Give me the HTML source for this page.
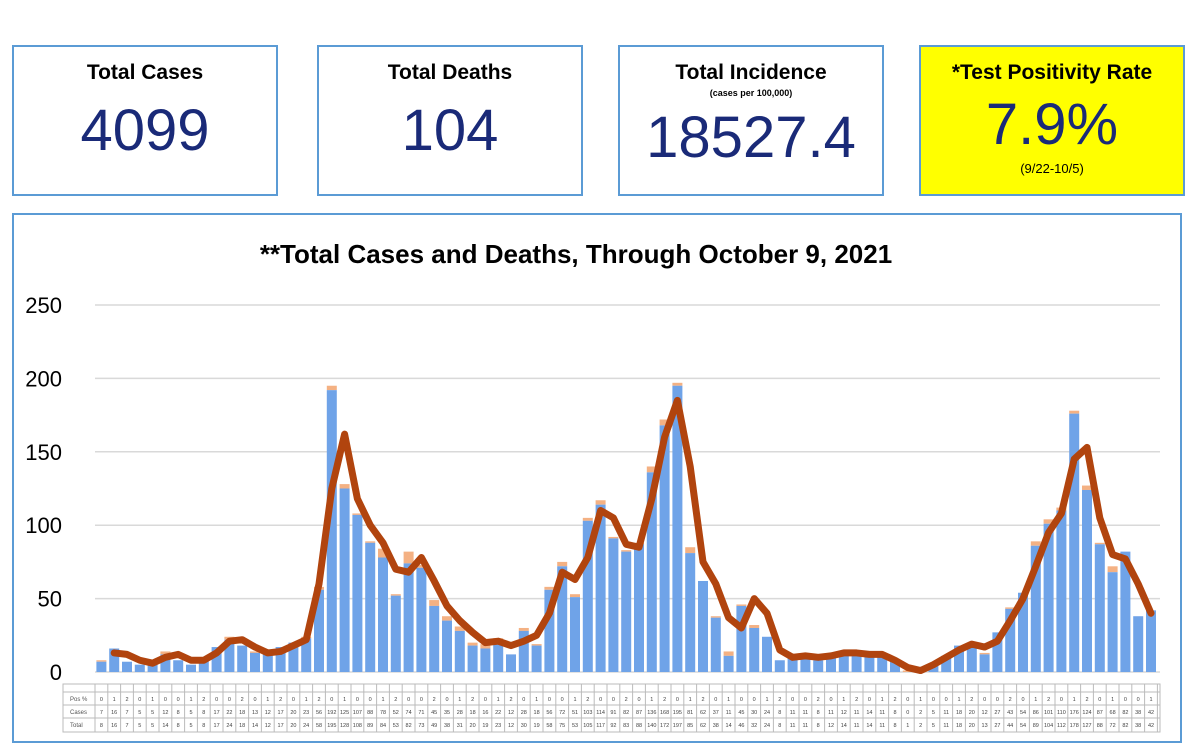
<!DOCTYPE html>
<html><head><meta charset="utf-8"><style>
body{margin:0;width:1200px;height:750px;background:#fff;overflow:hidden;font-family:"Liberation Sans",sans-serif}
.card{position:absolute;top:45px;height:151px;border:2px solid #5b9bd5;box-sizing:border-box;text-align:center;background:#fff}
.t{font-weight:bold;font-size:21px;margin-top:14px;color:#000}
.n{color:#1a2a78;font-size:58px;line-height:60px}
</style></head><body>
<div class="card" style="left:12px;width:266px"><div class="t">Total Cases</div><div class="n" style="margin-top:16px">4099</div></div>
<div class="card" style="left:317px;width:266px"><div class="t">Total Deaths</div><div class="n" style="margin-top:16px">104</div></div>
<div class="card" style="left:618px;width:266px"><div class="t">Total Incidence</div><div style="font-size:9px;font-weight:bold;margin-top:3px">(cases per 100,000)</div><div class="n" style="margin-top:10px">18527.4</div></div>
<div class="card" style="left:919px;width:266px;background:#ffff00"><div class="t">*Test Positivity Rate</div><div class="n" style="margin-top:10px">7.9%</div><div style="font-size:13px;margin-top:6px">(9/22-10/5)</div></div>
<div style="position:absolute;left:12px;top:213px;width:1170px;height:530px;border:2px solid #5b9bd5;box-sizing:border-box"></div>
<svg id="s" width="1200" height="750" style="position:absolute;left:0;top:0">
<text x="576" y="263" text-anchor="middle" font-size="26" font-weight="bold" font-family="Liberation Sans">**Total Cases and Deaths, Through October 9, 2021</text>
</svg>
<script>
const T=[8,16,7,5,5,14,8,5,8,17,24,18,14,12,17,20,24,58,195,128,108,89,84,53,82,73,49,38,31,20,19,23,12,30,19,58,75,53,105,117,92,83,88,140,172,197,85,62,38,14,46,32,24,8,11,11,8,12,14,11,14,11,8,1,2,5,11,18,20,13,27,44,54,89,104,112,178,127,88,72,82,38,42];
const C=[7,16,7,5,5,12,8,5,8,17,22,18,13,12,17,20,23,56,192,125,107,88,78,52,74,71,45,35,28,18,16,22,12,28,18,56,72,51,103,114,91,82,87,136,168,195,81,62,37,11,45,30,24,8,11,11,8,11,12,11,14,11,8,0,2,5,11,18,20,12,27,43,54,86,101,110,176,124,87,68,82,38,42];
const L=[null,13,12,8,6,10,12,8,8,13,21,22,17,13,14,18,22,60,125,162,118,100,88,70,68,78,62,45,35,27,20,21,18,21,25,40,68,63,78,110,105,87,85,118,160,185,140,75,60,37,30,50,40,15,10,11,10,11,13,13,12,12,8,3,1,5,10,15,19,17,21,35,50,72,95,108,145,153,105,80,77,60,40];
const y0=672,k=1.468,x0=95,w=12.8;let h='';
for(let v=0;v<=250;v+=50){const y=y0-v*k;h+=`<line x1="95" x2="1160" y1="${y}" y2="${y}" stroke="#d9d9d9" stroke-width="1.5"/><text x="62" y="${y+8}" text-anchor="end" font-size="22" font-family="Liberation Sans">${v}</text>`;}
for(let i=0;i<83;i++){const x=x0+i*w+1.4;h+=`<rect x="${x}" y="${y0-T[i]*k}" width="10" height="${(T[i]-C[i])*k}" fill="#f4b183"/><rect x="${x}" y="${y0-C[i]*k}" width="10" height="${C[i]*k}" fill="#6fa3e8"/>`;}
let p=[];for(let i=1;i<L.length;i++)p.push((x0+i*w+6.4)+','+(y0-L[i]*k));
h+=`<polyline points="${p.join(' ')}" fill="none" stroke="#b1440e" stroke-width="7" stroke-linejoin="round" stroke-linecap="round"/>`;
const ty=[684,692,705,718,732];
h+=`<rect x="63" y="684" width="1097" height="48" fill="none" stroke="#bbb"/>`;
for(const y of ty)h+=`<line x1="${y==684?95:63}" x2="1160" y1="${y}" y2="${y}" stroke="#bbb"/>`;
for(let i=0;i<=83;i++){const x=x0+i*w;h+=`<line x1="${x}" x2="${x}" y1="684" y2="732" stroke="#bbb"/>`;}
const labs=['Pos %','Cases','Total'];
for(let r=0;r<3;r++)h+=`<text x="70" y="${ty[r+1]+9}" font-size="6" fill="#555">${labs[r]}</text>`;
for(let i=0;i<83;i++){const x=x0+i*w+6.4;const vals=[i%5==0?0:(i%3),C[i],T[i]];for(let r=0;r<3;r++)h+=`<text x="${x}" y="${ty[r+1]+9}" font-size="5.5" text-anchor="middle" fill="#444">${vals[r]}</text>`;}
document.getElementById('s').insertAdjacentHTML('beforeend',h);
</script>
</body></html>
